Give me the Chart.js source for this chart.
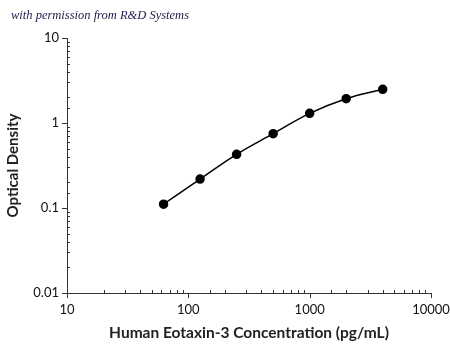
<!DOCTYPE html>
<html>
<head>
<meta charset="utf-8">
<script src="https://cdn.jsdelivr.net/npm/chart.js@4"></script>
<style>
  html, body { margin: 0; padding: 0; background: #fff; }
  #wrap { position: relative; width: 450px; height: 350px; }
  #note { position: absolute; left: 11px; top: 8px; font: italic 12.5px "Liberation Serif", serif; color: #1c1c4c; }
</style>
</head>
<body>
<div id="wrap">
  <canvas id="chart" width="450" height="350"></canvas>
  <div id="note">with permission from R&amp;D Systems</div>
</div>
<script>
// standard curve readings
const concentrations = [62.5, 125, 250, 500, 1000, 2000, 4000];
const opticalDensity = [0.111, 0.219, 0.428, 0.748, 1.30, 1.93, 2.49];

const xRange = [10, 10000];
const yRange = [0.01, 10];

const axisColor = '#333';
const fontFamily = 'Lato, "Open Sans", sans-serif';

function isDecade(v) {
    const l = Math.log10(v);
    return Math.abs(l - Math.round(l)) < 1e-9;
}

// major ticks outside, minor ticks inside (like the original plot)
const tickMarks = {
    id: 'tickMarks',
    afterDraw(chart) {
        const ctx = chart.ctx;
        const area = chart.chartArea;
        ctx.save();
        ctx.strokeStyle = axisColor;
        ctx.lineWidth = 1;
        ctx.beginPath();
        chart.scales.x.ticks.forEach(t => {
            const px = Math.round(chart.scales.x.getPixelForValue(t.value)) + 0.5;
            const major = isDecade(t.value);
            ctx.moveTo(px, area.bottom);
            ctx.lineTo(px, major ? area.bottom + 5 : area.bottom - 3);
        });
        chart.scales.y.ticks.forEach(t => {
            const py = Math.round(chart.scales.y.getPixelForValue(t.value)) + 0.5;
            const major = isDecade(t.value);
            ctx.moveTo(area.left, py);
            ctx.lineTo(major ? area.left - 5 : area.left + 3, py);
        });
        ctx.stroke();
        ctx.restore();
    }
};

const ctx = document.getElementById('chart').getContext('2d');
new Chart(ctx, {
    type: 'line',
    data: {
        datasets: [{
            data: concentrations.map((c, i) => ({ x: c, y: opticalDensity[i] })),
            borderColor: '#000',
            backgroundColor: '#000',
            borderWidth: 1.5,
            pointRadius: 4,
            pointHoverRadius: 4,
            tension: 0.4,
            fill: false
        }]
    },
    options: {
        responsive: false,
        animation: false,
        events: [],
        layout: { padding: { top: 38, right: 19, left: 0, bottom: 0 } },
        plugins: { legend: { display: false }, tooltip: { enabled: false } },
        scales: {
            x: {
                type: 'logarithmic',
                min: xRange[0],
                max: xRange[1],
                afterFit: s => { s.height = 57; s.paddingLeft = 0; s.paddingRight = 0; },
                border: { display: true, color: axisColor, width: 1 },
                grid: { drawOnChartArea: false, tickColor: 'transparent', tickLength: 5 },
                ticks: {
                    autoSkip: false,
                    maxRotation: 0,
                    color: '#111',
                    font: { family: fontFamily, size: 13 },
                    padding: 4,
                    callback: v => isDecade(v) ? String(v) : ''
                },
                title: {
                    display: true,
                    text: 'Human Eotaxin-3 Concentration (pg/mL)',
                    color: '#222',
                    font: { family: fontFamily, size: 15.5, weight: 'bold' },
                    padding: { top: 4, bottom: 8 }
                }
            },
            y: {
                type: 'logarithmic',
                min: yRange[0],
                max: yRange[1],
                afterFit: s => { s.width = 67; s.paddingTop = 0; s.paddingBottom = 0; },
                border: { display: true, color: axisColor, width: 1 },
                grid: { drawOnChartArea: false, tickColor: 'transparent', tickLength: 5 },
                ticks: {
                    autoSkip: false,
                    color: '#111',
                    font: { family: fontFamily, size: 13 },
                    padding: 3,
                    callback: v => isDecade(v) ? String(v) : ''
                },
                title: {
                    display: true,
                    text: 'Optical Density',
                    color: '#222',
                    font: { family: fontFamily, size: 15, weight: 'bold' },
                    padding: { top: 4, bottom: 4 }
                }
            }
        }
    },
    plugins: [tickMarks]
});
</script>
</body>
</html>
